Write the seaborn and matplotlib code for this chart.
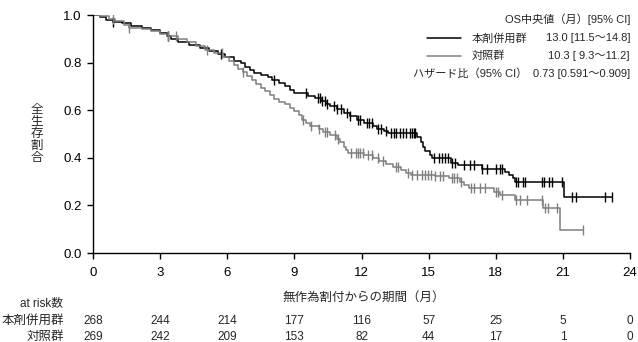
import numpy as np
import pandas as pd
import matplotlib
matplotlib.use("Agg")
import matplotlib.pyplot as plt
import matplotlib.transforms as mtransforms
from matplotlib.lines import Line2D
import seaborn as sns

sns.set_theme(style="ticks")
plt.rcParams["font.family"] = ["Liberation Sans", "Noto Sans CJK JP", "DejaVu Sans"]

# Kaplan-Meier step points (time in months, survival proportion)
combo_times = [0, 0.3, 0.6, 0.9, 1.3, 1.7, 2.2, 2.6, 3.0, 3.3, 3.5, 3.8, 4.3, 4.8, 5.2, 5.6,
               5.9, 6.3, 6.6, 6.8, 7.0, 7.2, 7.5, 7.8, 8.0, 8.3, 8.6, 8.8, 9.0, 9.6, 9.9,
               10.2, 10.4, 10.6, 10.9, 11.2, 11.5, 11.8, 12.1, 12.5, 12.7, 13.0, 13.2, 14.5,
               14.65, 14.75, 14.85, 15.05, 15.15, 16.0, 16.3, 17.4, 18.4, 18.6, 18.75, 18.85,
               21.05, 23.2]
combo_surv = [1.0, 0.993, 0.98, 0.972, 0.965, 0.955, 0.945, 0.935, 0.925, 0.912, 0.898, 0.888,
              0.875, 0.862, 0.848, 0.835, 0.822, 0.808, 0.797, 0.782, 0.77, 0.758, 0.748, 0.738,
              0.728, 0.715, 0.70, 0.685, 0.672, 0.66, 0.65, 0.64, 0.628, 0.618, 0.605, 0.59,
              0.575, 0.56, 0.548, 0.535, 0.522, 0.512, 0.504, 0.488, 0.465, 0.445, 0.43, 0.41,
              0.40, 0.38, 0.368, 0.352, 0.34, 0.328, 0.315, 0.30, 0.236, 0.236]
combo_censor = [0.9, 3.35, 5.7, 8.1, 9.5, 10.05, 10.15, 10.25, 10.35, 10.45, 10.75, 10.9, 11.1,
                11.35, 11.5, 11.85, 11.95, 12.25, 12.35, 12.45, 12.75, 12.85, 13.1, 13.3, 13.45,
                13.55, 13.7, 13.85, 14.0, 14.15, 14.25, 14.35, 14.4, 15.25, 15.45, 15.6, 15.75,
                15.85, 16.05, 16.2, 16.6, 16.85, 17.05, 17.4, 17.6, 18.0, 18.2, 18.3, 18.9, 19.0,
                19.2, 19.3, 20.05, 20.15, 20.4, 20.5, 20.95, 21.4, 21.6, 22.9, 23.2]

ctrl_times = [0, 0.3, 0.7, 1.0, 1.4, 1.6, 2.2, 2.6, 3.0, 3.3, 3.8, 4.2, 4.6, 5.0, 5.4, 5.8,
              6.1, 6.3, 6.5, 6.7, 6.9, 7.1, 7.3, 7.5, 7.7, 7.9, 8.1, 8.3, 8.6, 8.8, 9.0, 9.2,
              9.35, 9.5, 9.7, 10.1, 10.3, 10.6, 10.9, 11.05, 11.2, 11.3, 11.4, 12.1, 12.5, 12.8,
              13.1, 13.4, 13.75, 14.0, 14.2, 15.3, 15.9, 16.4, 16.6, 16.8, 17.9, 18.2, 18.85,
              20.1, 20.85, 21.9]
ctrl_surv = [1.0, 0.995, 0.985, 0.975, 0.96, 0.945, 0.94, 0.932, 0.92, 0.91, 0.90, 0.885,
             0.87, 0.855, 0.84, 0.822, 0.805, 0.788, 0.775, 0.76, 0.745, 0.728, 0.712, 0.695,
             0.68, 0.664, 0.648, 0.635, 0.625, 0.61, 0.595, 0.578, 0.56, 0.545, 0.532, 0.52,
             0.508, 0.496, 0.48, 0.465, 0.445, 0.432, 0.42, 0.41, 0.40, 0.385, 0.372, 0.362,
             0.35, 0.336, 0.328, 0.322, 0.315, 0.30, 0.286, 0.275, 0.255, 0.244, 0.222, 0.19,
             0.097, 0.097]
ctrl_censor = [0.9, 1.6, 3.35, 3.7, 5.1, 5.75, 6.7, 9.4, 9.75, 10.1, 10.35, 10.45, 10.8, 10.95,
               11.55, 11.75, 11.85, 11.95, 12.05, 12.3, 12.45, 12.75, 12.95, 13.55, 13.65, 14.1,
               14.25, 14.5, 14.7, 14.85, 14.95, 15.1, 15.3, 15.5, 15.65, 16.05, 16.15, 16.25,
               16.45, 16.9, 17.05, 17.3, 17.5, 18.0, 18.1, 18.3, 18.9, 19.1, 19.4, 20.05, 20.2,
               20.35, 20.75, 21.9]

arms = ["本剤併用群", "対照群"]
arm_colors = {"本剤併用群": "#000000", "対照群": "#7f7f7f"}

x_ticks = [0, 3, 6, 9, 12, 15, 18, 21, 24]
y_ticks = [0.0, 0.2, 0.4, 0.6, 0.8, 1.0]
at_risk_combo = [268, 244, 214, 177, 116, 57, 25, 5, 0]
at_risk_ctrl = [269, 242, 209, 153, 82, 44, 17, 1, 0]

legend_title = "OS中央値（月）[95% CI]"
legend_values = ["13.0 [11.5～14.8]", "10.3 [ 9.3～11.2]"]
hr_label = "ハザード比（95% CI）"
hr_value = "0.73 [0.591～0.909]"


def surv_at(times, surv, t):
    idx = np.searchsorted(times, t, side="right") - 1
    return np.asarray(surv)[idx]


curves = pd.concat([
    pd.DataFrame({"time": combo_times, "surv": combo_surv, "arm": arms[0]}),
    pd.DataFrame({"time": ctrl_times, "surv": ctrl_surv, "arm": arms[1]}),
], ignore_index=True)
censors = pd.concat([
    pd.DataFrame({"time": combo_censor,
                  "surv": surv_at(combo_times, combo_surv, combo_censor), "arm": arms[0]}),
    pd.DataFrame({"time": ctrl_censor,
                  "surv": surv_at(ctrl_times, ctrl_surv, ctrl_censor), "arm": arms[1]}),
], ignore_index=True)

W, H = 638, 342
fig = plt.figure(figsize=(W / 100, H / 100), dpi=100)
ax = fig.add_axes([93 / W, 1 - 253 / H, (630 - 93) / W, (253 - 15) / H])

for arm in arms:
    sns.lineplot(data=curves[curves["arm"] == arm], x="time", y="surv", ax=ax,
                 color=arm_colors[arm], drawstyle="steps-post", estimator=None,
                 sort=False, linewidth=1.1, legend=False)
    sns.scatterplot(data=censors[censors["arm"] == arm], x="time", y="surv", ax=ax,
                    marker="|", s=45, linewidth=1.0, color=arm_colors[arm], legend=False,
                    zorder=3)

ax.set_xlim(0, 24)
ax.set_ylim(0, 1.0)
ax.set_xticks(x_ticks)
ax.set_yticks(y_ticks)
ax.set_yticklabels([f"{v:.1f}" for v in y_ticks])
ax.tick_params(axis="both", labelsize=9.5, length=4, width=1, color="black", pad=4,
               labelcolor="black")
ax.tick_params(axis="x", pad=6)
for side in ("top", "right"):
    ax.spines[side].set_visible(False)
for side in ("left", "bottom"):
    ax.spines[side].set_color("black")
    ax.spines[side].set_linewidth(1.0)
ax.set_xlabel("")
ax.set_ylabel("")
ax.set_facecolor("white")
fig.patch.set_facecolor("white")

# vertical stacked axis title
fig.text(37 / W, 1 - 134 / H, "\n".join("全生存割合"), ha="center", va="center",
         fontsize=9, linespacing=1.0)
fig.text(364 / W, 1 - 298 / H, "無作為割付からの期間（月）", ha="center", va="center",
         fontsize=9)

# legend block
fig.text(630 / W, 1 - 19 / H, legend_title, ha="right", va="center", fontsize=8)
for i, arm in enumerate(arms):
    yy = 1 - (38 + 18 * i) / H
    fig.add_artist(Line2D([427 / W, 461 / W], [yy, yy], color=arm_colors[arm],
                          linewidth=1.1, transform=fig.transFigure))
    fig.text(472 / W, yy, arm, ha="left", va="center", fontsize=8)
    fig.text(630 / W, yy, legend_values[i], ha="right", va="center", fontsize=8)
fig.text(413 / W, 1 - 74 / H, hr_label, ha="left", va="center", fontsize=8)
fig.text(630 / W, 1 - 74 / H, hr_value, ha="right", va="center", fontsize=8)

# number-at-risk table
trans = mtransforms.blended_transform_factory(ax.transData, fig.transFigure)
fig.text(63 / W, 1 - 303 / H, "at risk数", ha="right", va="center", fontsize=8.5)
for row_y, label, counts in ((321, arms[0], at_risk_combo), (337, arms[1], at_risk_ctrl)):
    fig.text(64 / W, 1 - row_y / H, label, ha="right", va="center", fontsize=9)
    for t, n in zip(x_ticks, counts):
        ax.text(t, 1 - row_y / H, str(n), transform=trans, ha="center", va="center",
                fontsize=8.5, clip_on=False)

fig.savefig("out.png", dpi=100, facecolor="white")
